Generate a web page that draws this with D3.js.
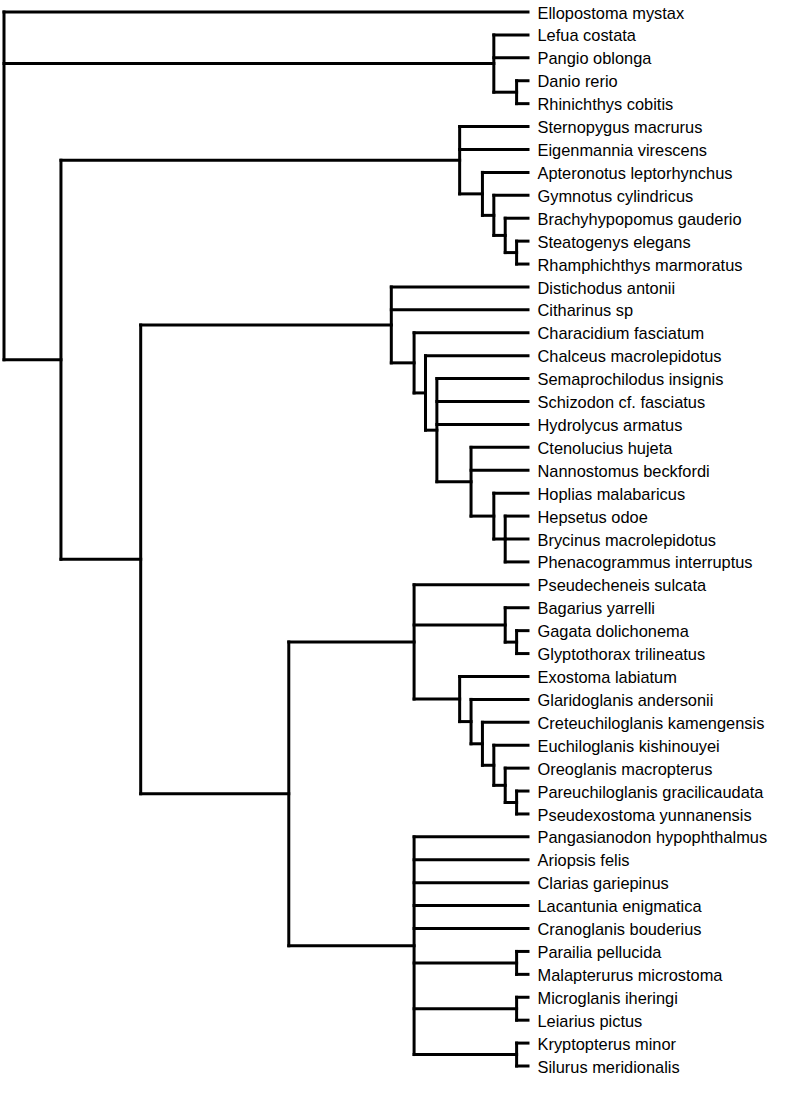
<!DOCTYPE html>
<html>
<head>
<meta charset="utf-8">
<script src="https://cdn.jsdelivr.net/npm/d3@7"></script>
<style>
  html, body { margin: 0; padding: 0; background: #fff; }
  svg { display: block; }
  text { font-family: "Liberation Sans", Arial, sans-serif; }
</style>
</head>
<body>
<svg id="chart" width="792" height="1096"></svg>
<script>
// Tree topology (Newick, no branch lengths)
const newick = "(Ellopostoma mystax,(Lefua costata,Pangio oblonga,(Danio rerio,Rhinichthys cobitis)),((Sternopygus macrurus,Eigenmannia virescens,(Apteronotus leptorhynchus,(Gymnotus cylindricus,(Brachyhypopomus gauderio,(Steatogenys elegans,Rhamphichthys marmoratus))))),((Distichodus antonii,Citharinus sp,(Characidium fasciatum,(Chalceus macrolepidotus,(Semaprochilodus insignis,Schizodon cf. fasciatus,Hydrolycus armatus,(Ctenolucius hujeta,Nannostomus beckfordi,(Hoplias malabaricus,(Hepsetus odoe,Brycinus macrolepidotus,Phenacogrammus interruptus))))))),((Pseudecheneis sulcata,(Bagarius yarrelli,(Gagata dolichonema,Glyptothorax trilineatus)),(Exostoma labiatum,(Glaridoglanis andersonii,(Creteuchiloglanis kamengensis,(Euchiloglanis kishinouyei,(Oreoglanis macropterus,(Pareuchiloglanis gracilicaudata,Pseudexostoma yunnanensis))))))),(Pangasianodon hypophthalmus,Ariopsis felis,Clarias gariepinus,Lacantunia enigmatica,Cranoglanis bouderius,(Parailia pellucida,Malapterurus microstoma),(Microglanis iheringi,Leiarius pictus),(Kryptopterus minor,Silurus meridionalis))))))";

function parseNewick(s) {
  let i = 0;
  function node() {
    const n = {};
    if (s[i] === "(") {
      i++;
      n.children = [node()];
      while (s[i] === ",") { i++; n.children.push(node()); }
      i++; // ')'
    }
    let name = "";
    while (i < s.length && !",()".includes(s[i])) name += s[i++];
    n.name = name.trim();
    return n;
  }
  return node();
}

const root = d3.hierarchy(parseNewick(newick));
const leaves = root.leaves();
const nLeaves = leaves.length;

const margin = {left: 4, tipX: 528, top: 12, bottom: 1066};
const x = d3.scaleLinear().domain([nLeaves - 1, 0]).range([margin.left, margin.tipX]);
const y = d3.scaleLinear().domain([0, nLeaves - 1]).range([margin.top, margin.bottom]);

leaves.forEach((l, i) => { l.yPos = y(i); });
root.eachAfter(d => {
  const nTips = d.leaves().length;
  d.xPos = x(nTips - 1);
  if (d.children) {
    d.yPos = (d.children[0].yPos + d.children[d.children.length - 1].yPos) / 2;
  }
});

const svg = d3.select("#chart");
const g = svg.append("g");

// horizontal branches
g.selectAll("path.h")
  .data(root.descendants().filter(d => d.parent))
  .join("path")
  .attr("class", "h")
  .attr("d", d => `M${d.parent.xPos},${d.yPos}H${d.xPos}`)
  .attr("fill", "none").attr("stroke", "#000").attr("stroke-width", 3)
  .attr("stroke-linecap", "square");

// vertical connectors
g.selectAll("path.v")
  .data(root.descendants().filter(d => d.children))
  .join("path")
  .attr("class", "v")
  .attr("d", d => `M${d.xPos},${d.children[0].yPos}V${d.children[d.children.length - 1].yPos}`)
  .attr("fill", "none").attr("stroke", "#000").attr("stroke-width", 3)
  .attr("stroke-linecap", "square");

// tip labels
g.selectAll("text.tip")
  .data(leaves)
  .join("text")
  .attr("class", "tip")
  .attr("x", d => d.xPos + 9.5)
  .attr("y", d => d.yPos)
  .attr("dy", "0.4em")
  .attr("font-size", 16.4)
  .attr("fill", "#000")
  .text(d => d.data.name);
</script>
</body>
</html>
